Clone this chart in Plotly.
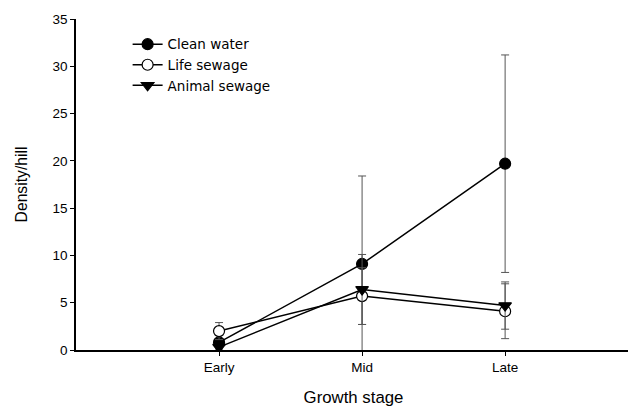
import plotly.graph_objects as go

stages = ["Early", "Mid", "Late"]
stage_pos = [1, 2, 3]

clean = [0.8, 9.1, 19.7]
clean_err = [0.3, 9.3, 11.5]
life = [2.0, 5.7, 4.1]
life_err = [0.9, 3.0, 2.9]
animal = [0.3, 6.4, 4.7]
animal_err = [0.2, 3.7, 2.5]

y_ticks = [0, 5, 10, 15, 20, 25, 30, 35]

FONT = "Liberation Sans, Arial, sans-serif"

fig = go.Figure()

def add(name, y, err, symbol, fill):
    fig.add_trace(go.Scatter(
        x=stage_pos, y=y, name=name, mode="lines+markers",
        line=dict(color="black", width=1.5),
        marker=dict(symbol=symbol, size=11, color=fill,
                    line=dict(color="black", width=1.2)),
        error_y=dict(type="data", array=err, visible=True,
                     color="#555555", thickness=1, width=4),
        cliponaxis=True,
    ))

add("Clean water", clean, clean_err, "circle", "black")
add("Life sewage", life, life_err, "circle", "white")
add("Animal sewage", animal, animal_err, "triangle-down", "black")

# the page body adds an 8px offset, so the figure is sized to fit the window
fig.update_layout(
    width=628, height=399,
    margin=dict(l=68, r=5, t=11, b=57),
    paper_bgcolor="white", plot_bgcolor="white",
    font=dict(family=FONT, size=13.5, color="black"),
    showlegend=True,
    legend=dict(x=0.093, y=0.97, xanchor="left", yanchor="top",
                bgcolor="rgba(0,0,0,0)",
                font=dict(size=13.5, family="DejaVu Sans, sans-serif"),
                itemwidth=30, tracegroupgap=0),
    xaxis=dict(
        range=[0, 3.88], tickvals=stage_pos, ticktext=stages,
        showline=True, linecolor="black", linewidth=1.5,
        ticks="outside", ticklen=4, tickcolor="black",
        showgrid=False, zeroline=False, automargin=False,
        title=dict(text="Growth stage", font=dict(size=16.8), standoff=17),
    ),
    yaxis=dict(
        range=[0, 35], tickvals=y_ticks,
        showline=True, linecolor="black", linewidth=1.5,
        ticks="outside", ticklen=4, tickcolor="black",
        showgrid=False, zeroline=False, automargin=False,
        title=dict(text="Density/hill", font=dict(size=15.7), standoff=21),
    ),
)

fig.write_html("out.html")
